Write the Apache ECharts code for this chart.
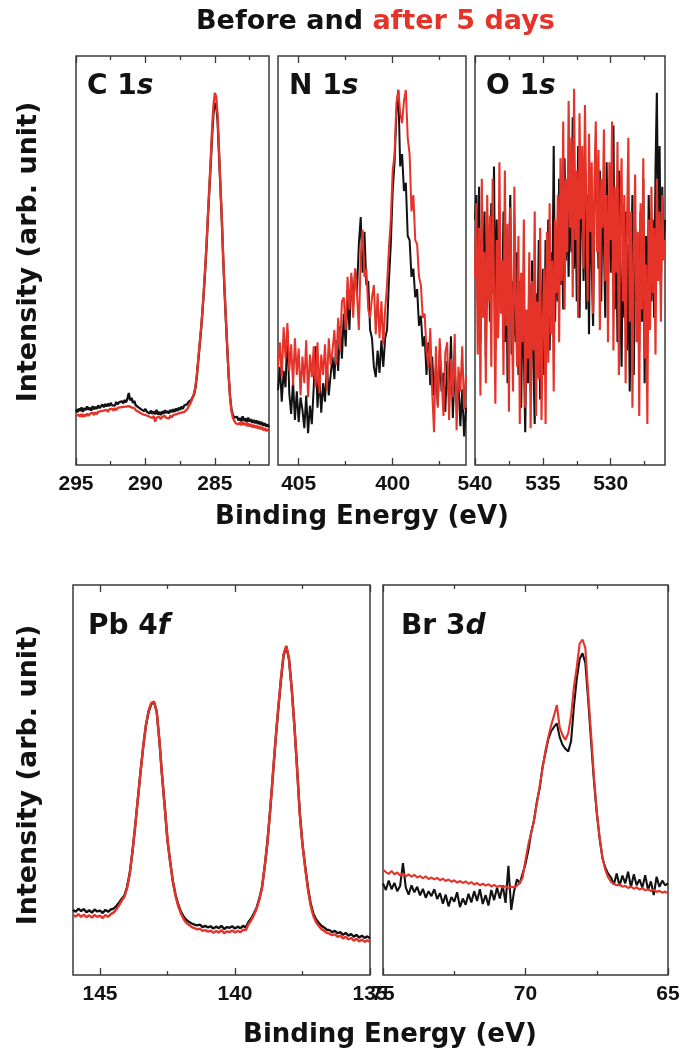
<!DOCTYPE html>
<html><head><meta charset="utf-8">
<script src="https://cdn.jsdelivr.net/npm/echarts@6/dist/echarts.min.js"></script>
<style>html,body{margin:0;padding:0;background:#fff}#c{width:684px;height:1054px}</style>
</head><body><div id="c"></div>
<script>
// ---------- DATA (intensity in arb. units, 0 = frame bottom, 100 = frame top) ----------
// energies are sampled every 0.1 eV starting from the *Start value, going down
const c1sStart = 295.0;
const c1sBefore = [
 13.6,12.9,13.8,13.2,14.1,13.0,13.9,13.4,14.3,13.5, // 295.0
 14.0,13.3,14.4,13.6,14.2,13.7,14.6,13.9,14.3,14.8, // 294.0
 14.1,14.9,14.3,15.0,14.4,15.2,14.6,15.0,14.5,15.4, // 293.0
 14.8,15.3,15.0,15.6,15.1,15.9,15.3,16.2,17.6,15.8, // 292.0
 16.4,15.2,15.7,14.6,15.0,14.1,14.5,13.6,14.0,13.2, // 291.0
 13.7,13.0,13.4,12.6,13.3,12.5,13.1,12.4,13.5,12.3, // 290.0
 13.0,12.2,13.1,12.5,13.4,12.7,13.2,12.6,13.5,12.9, // 289.0
 13.6,13.0,13.8,13.2,14.0,13.5,14.3,13.7,14.6,14.2, // 288.0
 14.8,15.4,15.2,15.9,16.3,17.2,18.8,21.5,25.3,29.0, // 287.0
 32.8,37.0,42.0,47.4,53.5,60.5,67.0,73.5,80.5,86.0, // 286.0
 88.5,88.0,84.0,76.0,68.0,60.0,50.5,42.5,35.0,28.0, // 285.0
 21.5,16.5,13.5,12.2,11.6,11.2,11.8,10.9,11.5,10.7, // 284.0
 11.9,10.8,11.4,10.5,11.6,10.6,11.2,10.3,11.0,10.2, // 283.0
 10.9,10.0,10.7,9.8,10.5,9.6,10.2,9.4,9.9,9.2       // 282.0
];
const c1sAfter = [
 12.0,11.6,12.3,11.8,12.5,11.7,12.4,11.9,12.6,12.0,
 12.5,12.1,12.8,12.2,12.9,12.4,13.0,12.6,13.2,12.8,
 13.3,12.9,13.5,13.0,13.6,13.2,13.8,13.3,13.9,13.4,
 14.0,13.6,14.1,13.7,14.2,13.8,14.3,13.9,14.4,14.0,
 14.1,13.7,13.9,13.4,13.5,13.0,13.1,12.6,12.8,12.3,
 12.6,12.1,12.4,11.8,12.2,11.5,12.0,10.6,11.6,11.4,
 11.8,11.2,11.7,11.3,12.0,11.5,11.9,11.4,12.1,11.6,
 12.2,11.8,12.4,12.0,12.6,12.2,12.8,12.4,13.0,13.1,
 13.6,14.2,14.8,15.6,16.4,17.5,19.2,22.0,25.8,29.5,
 33.2,37.5,42.5,48.0,54.0,61.0,68.0,74.5,82.0,88.0,
 91.0,90.0,85.5,77.0,68.5,60.5,51.0,43.0,35.5,28.5,
 21.8,16.5,13.0,11.5,10.8,10.2,10.6,9.9,10.4,9.7,
 10.5,9.8,10.3,9.5,10.2,9.4,10.0,9.2,9.8,9.1,
 9.6,8.9,9.5,8.7,9.3,8.5,9.0,8.3,8.8,8.2
];

const n1sStart = 406.1;
const n1sBefore = [
 18.3,24.0,15.5,23.0,19.0,33.0,17.5,12.5,20.5,11.0, // 406.1
 18.0,10.5,16.5,13.5,9.0,17.0,7.8,14.5,10.0,19.0,   // 405.1
 29.0,14.0,21.5,12.8,20.0,15.5,24.5,17.0,22.0,26.5, // 404.1
 21.0,30.5,23.0,34.0,26.0,37.0,29.0,42.0,33.0,46.0, // 403.1
 39.0,48.0,42.0,54.0,60.6,47.0,57.0,44.0,45.0,33.0, // 402.1
 31.0,24.0,21.5,28.0,22.5,30.5,24.0,31.0,33.0,45.0, // 401.1
 54.0,67.0,74.0,86.0,91.7,73.0,76.0,67.0,69.0,56.0, // 400.1
 55.0,46.0,48.0,41.0,43.0,34.0,36.5,29.0,31.5,22.0, // 399.1
 30.0,19.5,26.5,17.0,24.0,14.5,28.0,18.0,22.5,13.0, // 398.1
 25.5,16.0,31.5,11.5,23.5,15.0,20.0,9.5,18.5,7.0,   // 397.1
 14.0                                               // 396.1
];
const n1sAfter = [
 24.0,30.0,21.5,33.7,26.0,34.7,23.0,29.5,19.5,31.0,
 22.0,28.5,17.0,26.5,20.0,30.5,16.6,27.0,21.5,29.0,
 19.0,30.0,17.5,27.0,22.0,29.5,18.5,31.0,24.5,28.0,
 33.0,24.5,36.0,28.0,40.0,41.0,33.0,46.0,38.0,47.0,
 36.0,48.0,42.0,33.0,51.0,57.5,46.0,48.0,38.0,36.0,
 41.0,44.0,32.0,42.0,31.0,40.0,29.5,38.0,44.0,53.0,
 60.0,72.0,76.0,88.5,91.7,86.0,83.6,89.0,91.7,80.0,
 76.0,62.0,66.0,55.0,54.0,46.0,44.0,36.0,37.0,28.0,
 24.0,33.5,18.0,8.0,29.0,14.0,31.0,21.5,12.0,27.5,
 30.0,11.0,26.0,16.5,32.0,8.5,24.0,18.0,29.0,13.5,
 22.0
];

const o1sStart = 540.0;
const o1sBefore = [
 60,66,40,68,30,55,45,62,26,50, // 540.0
 58,35,64,42,73,28,60,33,52,44, // 539.0
 38,62,30,55,20,48,66,27,45,35, // 538.0
 30,52,22,45,14,40,28,8,36,20,  // 537.0
 44,18,50,25,10,42,30,55,16,38, // 536.0
 48,22,55,32,60,28,52,40,78,35, // 535.0
 58,40,70,44,62,38,75,50,66,46, // 534.0
 72,52,85,48,68,40,78,36,60,70, // 533.0
 45,76,38,66,32,70,50,34,62,73, // 532.0
 65,48,72,40,68,55,36,74,50,62, // 531.0
 47,70,83,38,60,30,72,45,24,58, // 530.0
 36,62,28,54,18,48,66,22,58,40, // 529.0
 50,28,62,35,70,20,56,32,66,45, // 528.0
 40,60,36,72,91,55,78,44,68,52, // 527.0
 60                             // 526.0
];
const o1sAfter = [
 46,64,27,58,17,70,36,52,20,66,
 40,61,24,70,43,15,55,31,74,37,
 50,22,72,34,59,13,63,40,18,68,
 41,24,56,10,47,30,60,14,38,26,
 52,9,45,28,62,12,40,21,58,11,
 35,48,10,57,25,64,32,50,18,60,
 42,66,30,75,45,84,38,70,52,89,
 58,80,41,92,55,72,36,86,60,78,
 48,88,64,40,81,57,74,37,69,84,
 52,77,33,70,58,82,45,66,30,74,
 55,84,28,68,47,79,22,61,75,40,
 66,20,58,80,35,62,14,52,71,30,
 57,12,64,38,75,26,49,10,60,33,
 68,42,58,27,70,45,62,35,66,50,
 55
];

const pbStart = 146.0;
const pbBefore = [
 16.7,16.2,17.0,16.4,16.9,16.1,16.6,16.0,16.8,16.3, // 146.0
 16.5,15.9,16.7,16.2,16.8,17.0,17.6,18.5,19.5,20.3, // 145.0
 22.5,26.0,31.5,38.0,45.0,52.0,58.5,64.0,67.5,69.5, // 144.0
 70.0,67.5,60.0,51.0,43.0,34.5,29.0,24.0,20.5,18.0, // 143.0
 16.2,14.9,14.1,13.6,13.2,12.9,12.7,12.9,12.3,12.6, // 142.0
 12.2,12.5,11.9,12.4,12.0,12.6,11.8,12.3,12.1,12.5, // 141.0
 11.9,12.4,12.0,12.6,12.2,13.6,14.5,15.8,17.2,19.5, // 140.0
 22.5,27.8,34.0,42.0,51.0,60.0,68.0,75.5,82.0,84.2, // 139.0
 81.0,73.5,64.0,53.0,41.5,33.5,27.8,22.5,18.4,15.8, // 138.0
 14.3,13.4,12.6,12.2,11.6,11.5,11.0,11.3,10.7,11.0, // 137.0
 10.3,10.8,10.1,10.5,9.8,10.3,9.6,10.1,9.5,9.9,     // 136.0
 9.4                                                // 135.0
];
const pbAfter = [
 15.4,15.0,15.6,14.9,15.5,14.8,15.3,14.7,15.4,14.9,
 15.2,14.6,15.4,14.9,15.6,16.0,16.8,17.8,19.0,20.0,
 22.2,25.8,31.5,38.0,45.0,52.0,58.5,64.0,67.8,69.8,
 70.1,67.6,60.2,51.0,43.0,34.5,29.0,23.8,20.2,17.6,
 15.7,14.3,13.3,12.8,12.3,12.0,11.7,11.9,11.3,11.5,
 11.1,11.4,10.8,11.3,10.9,11.5,10.7,11.2,11.0,11.4,
 10.9,11.3,11.0,11.6,11.5,13.0,14.0,15.4,17.0,19.3,
 22.4,27.8,34.0,42.0,51.2,60.3,68.3,76.0,82.3,84.4,
 81.0,73.4,63.8,52.8,41.2,33.2,27.4,22.0,17.9,15.2,
 13.6,12.6,11.8,11.3,10.8,10.6,10.2,10.4,9.8,10.1,
 9.4,9.8,9.1,9.5,8.8,9.3,8.6,9.1,8.5,8.9,
 8.5
];

const brStart = 75.0;
const brBefore = [
 23.5,21.8,24.2,22.0,23.6,21.5,22.8,28.7,22.4,20.6, // 75.0
 23.0,21.2,22.6,20.4,22.1,19.8,21.5,20.2,22.0,19.5, // 74.0
 21.0,18.3,20.6,17.6,20.0,18.8,21.2,17.4,19.6,18.0, // 73.0
 20.8,18.6,21.5,19.0,22.0,18.2,20.5,17.8,21.8,19.2, // 72.0
 22.4,19.6,23.0,18.5,28.0,16.7,21.5,24.5,23.5,26.0, // 71.0
 28.5,32.0,36.5,39.7,44.5,48.0,53.5,57.0,60.5,62.5, // 70.0
 63.6,64.5,61.0,59.0,58.0,57.3,60.0,69.0,76.0,81.0, // 69.0
 82.5,80.0,70.5,60.0,50.0,41.5,35.0,30.0,27.5,26.0, // 68.0
 25.0,23.2,26.0,22.8,25.5,23.5,26.5,22.5,25.8,23.0, // 67.0
 24.5,22.4,25.6,21.8,24.0,20.5,25.2,22.6,24.2,23.0, // 66.0
 23.5                                               // 65.0
];
const brAfter = [
 27.0,26.4,25.9,26.7,25.8,26.3,25.5,26.0,25.3,25.8,
 25.2,25.7,25.0,25.4,24.8,25.3,24.6,25.0,24.5,24.9,
 24.3,24.7,24.1,24.5,23.9,24.3,23.7,24.1,23.6,24.0,
 23.4,23.8,23.2,23.6,23.0,23.4,22.9,23.3,22.7,23.1,
 22.6,22.9,22.4,22.8,22.3,22.6,22.5,22.9,23.6,25.0,
 29.5,33.5,36.5,39.7,44.0,48.5,53.0,57.5,61.0,64.0,
 66.5,69.2,63.5,61.5,60.3,62.0,66.5,73.9,79.0,85.0,
 86.0,83.8,72.2,62.0,51.0,42.0,35.5,30.0,27.0,25.0,
 23.9,23.4,23.0,23.3,22.6,22.9,22.3,22.7,22.1,22.5,
 21.9,22.3,21.7,22.0,21.5,21.9,21.3,21.6,21.1,21.4,
 20.9
];

// tick values
const c1sMajor = [295, 290, 285], c1sMinor = [292.5, 287.5, 282.5];
const n1sMajor = [405, 400],      n1sMinor = [402.5, 397.5];
const o1sMajor = [540, 535, 530], o1sMinor = [537.5, 532.5, 527.5];
const pbMajor  = [145, 140, 135], pbMinor  = [142.5, 137.5];
const brMajor  = [75, 70, 65],    brMinor  = [72.5, 67.5];

// ---------- CHART ----------
const STEP = 0.1;
function pairs(start, vals) { return vals.map((v, i) => [+(start - STEP * i).toFixed(2), v]); }

const BLACK = '#121212', RED = '#e6332a', FRAME = '#3a3a3a';
const NUMFONT = '"Liberation Sans", Arial, sans-serif';
const TXTFONT = '"DejaVu Sans", sans-serif';

const panels = [
  { grid: {left: 76, top: 56, width: 193, height: 409}, min: 281.1, max: 295, major: c1sMajor, minor: c1sMinor,
    before: pairs(c1sStart, c1sBefore), after: pairs(c1sStart, c1sAfter), lw: 2.3, name: ['C 1', 's'], lx: 87, ly: 73 },
  { grid: {left: 278, top: 56, width: 188, height: 409}, min: 396.1, max: 406.1, major: n1sMajor, minor: n1sMinor,
    before: pairs(n1sStart, n1sBefore), after: pairs(n1sStart, n1sAfter), lw: 2.0, name: ['N 1', 's'], lx: 289, ly: 73 },
  { grid: {left: 475, top: 56, width: 190, height: 409}, min: 526, max: 540, major: o1sMajor, minor: o1sMinor,
    before: pairs(o1sStart, o1sBefore), after: pairs(o1sStart, o1sAfter), lw: 2.1, name: ['O 1', 's'], lx: 486, ly: 73 },
  { grid: {left: 73, top: 585, width: 297, height: 390}, min: 135, max: 146, major: pbMajor, minor: pbMinor,
    before: pairs(pbStart, pbBefore), after: pairs(pbStart, pbAfter), lw: 2.4, name: ['Pb 4', 'f'], lx: 88, ly: 613 },
  { grid: {left: 383, top: 585, width: 285, height: 390}, min: 65, max: 75, major: brMajor, minor: brMinor,
    before: pairs(brStart, brBefore), after: pairs(brStart, brAfter), lw: 2.1, name: ['Br 3', 'd'], lx: 401, ly: 613 }
];

const grids = [], xAxes = [], yAxes = [], series = [], titles = [];

titles.push({
  text: '{a|Before and }{b|after 5 days}', left: 196, top: 8, padding: 0,
  textStyle: { rich: {
    a: { fontSize: 27, fontWeight: 'bold', fontFamily: TXTFONT, color: BLACK },
    b: { fontSize: 27, fontWeight: 'bold', fontFamily: TXTFONT, color: RED }
  } }
});

panels.forEach((p, i) => {
  grids.push(Object.assign({ show: true, borderColor: FRAME, borderWidth: 1.5, backgroundColor: 'transparent' }, p.grid));
  const base = { type: 'value', gridIndex: i, min: p.min, max: p.max, inverse: true,
                 axisLine: { show: false }, splitLine: { show: false } };
  const tick = (vals, len) => ({ show: true, inside: true, length: len, customValues: vals,
                                  lineStyle: { color: FRAME, width: 1.3 } });
  xAxes.push(Object.assign({}, base, { position: 'bottom', axisTick: tick(p.major, 7),
    axisLabel: { show: true, customValues: p.major, showMinLabel: true, showMaxLabel: true, margin: 9,
                 fontSize: 21, fontWeight: 'bold', fontFamily: NUMFONT, color: BLACK } }));
  xAxes.push(Object.assign({}, base, { position: 'bottom', axisTick: tick(p.minor, 4), axisLabel: { show: false } }));
  xAxes.push(Object.assign({}, base, { position: 'top', axisTick: tick(p.major, 7), axisLabel: { show: false } }));
  xAxes.push(Object.assign({}, base, { position: 'top', axisTick: tick(p.minor, 4), axisLabel: { show: false } }));
  yAxes.push({ type: 'value', gridIndex: i, min: 0, max: 100, show: false });
  [['before', BLACK], ['after', RED]].forEach(([k, col]) => {
    series.push({ type: 'line', xAxisIndex: i * 4, yAxisIndex: i, data: p[k], showSymbol: false, symbol: 'none',
                  lineStyle: { color: col, width: p.lw }, itemStyle: { color: col }, silent: true, animation: false });
  });
  titles.push({
    text: '{n|' + p.name[0] + '}{i|' + p.name[1] + '}', left: p.lx, top: p.ly, padding: 0,
    textStyle: { rich: {
      n: { fontSize: 28, fontWeight: 'bold', fontFamily: TXTFONT, color: BLACK },
      i: { fontSize: 28, fontWeight: 'bold', fontStyle: 'italic', fontFamily: TXTFONT, color: BLACK }
    } }
  });
});

const txt = (text, x, y, size, rot) => ({ type: 'text', x: x, y: y, rotation: rot || 0,
  style: { text: text, fill: BLACK, font: 'bold ' + size + 'px ' + TXTFONT, align: 'center', verticalAlign: 'middle' } });

const chart = echarts.init(document.getElementById('c'), null, { renderer: 'canvas' });
chart.setOption({
  animation: false,
  backgroundColor: '#ffffff',
  title: titles,
  grid: grids,
  xAxis: xAxes,
  yAxis: yAxes,
  series: series,
  graphic: [
    txt('Binding Energy (eV)', 362, 517, 26),
    txt('Binding Energy (eV)', 390, 1035, 26),
    txt('Intensity (arb. unit)', 29, 252, 27, Math.PI / 2),
    txt('Intensity (arb. unit)', 29, 775, 27, Math.PI / 2)
  ]
});
</script>
</body></html>
